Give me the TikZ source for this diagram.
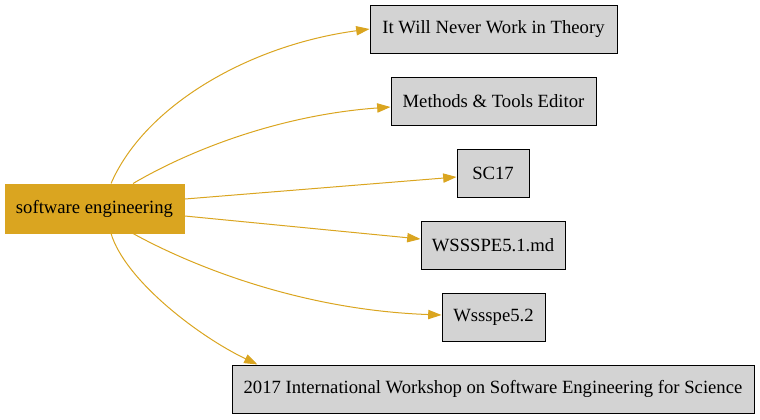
\documentclass[tikz,border=0pt]{standalone}
\usepackage{fontspec}
\setmainfont{Liberation Serif}
\usetikzlibrary{arrows.meta}
\definecolor{gold}{HTML}{DAA520}
\definecolor{lgray}{HTML}{D3D3D3}
\begin{document}
\begin{tikzpicture}[x=0.75pt,y=-0.75pt,
  every node/.style={font=\fontsize{14}{16}\selectfont, inner sep=0pt},
  srcbox/.style={fill=gold, draw=gold, line width=0.75pt, minimum height=36.75pt},
  tgtbox/.style={fill=lgray, draw=black, line width=0.75pt, minimum height=36pt},
  edge/.style={draw=gold, line width=0.75pt, -{Triangle[length=10pt,width=7pt]}}]
\useasboundingbox (0,0) rectangle (760,419);
\node[srcbox, minimum width=134.25pt] (src) at (94.5,208.5) {software engineering};
\node[tgtbox, minimum width=185.25pt] (t1) at (493.5,29) {It Will Never Work in Theory};
\node[tgtbox, minimum width=153.75pt] (t2) at (493.5,101) {Methods \& Tools Editor};
\node[tgtbox, minimum width=54pt] (t3) at (493,173) {SC17};
\node[tgtbox, minimum width=108pt] (t4) at (493,245) {WSSSPE5.1.md};
\node[tgtbox, minimum width=77.25pt] (t5) at (493.5,317) {Wssspe5.2};
\node[tgtbox, minimum width=391.5pt] (t6) at (493,389) {2017 International Workshop on Software Engineering for Science};
\path[edge] ([xshift=12.4pt]src.north) .. controls (145,105) and (250,45) .. (t1.west);
\path[edge] ([xshift=28.9pt]src.north) .. controls (190,150) and (280,115) .. ([yshift=-4.5pt]t2.west);
\path[edge] ([yshift=7.1pt]src.east) -- ([yshift=-3pt]t3.west);
\path[edge] ([yshift=-5.6pt]src.east) -- ([yshift=4.5pt]t4.west);
\path[edge] ([xshift=28.9pt]src.south) .. controls (190,265) and (300,310) .. ([yshift=1.5pt]t5.west);
\path[edge] ([xshift=12.4pt]src.south) .. controls (125,280) and (198,336) .. ([xshift=19.5pt]t6.north west);
\end{tikzpicture}
\end{document}
